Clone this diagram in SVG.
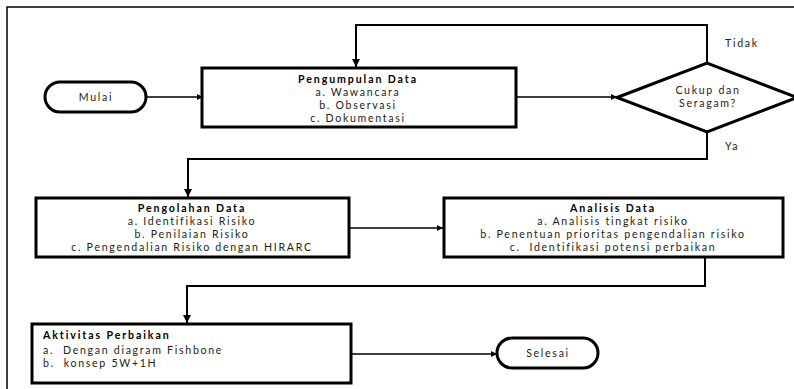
<svg xmlns="http://www.w3.org/2000/svg" width="794" height="389" viewBox="0 0 794 389">
<defs>
<marker id="ah" viewBox="0 0 10 10" refX="10" refY="5" markerWidth="6" markerHeight="6" markerUnits="userSpaceOnUse" orient="auto">
<path d="M0,0 L10,5 L0,10 z" fill="#000"/>
</marker>
<marker id="ahb" viewBox="0 0 10 10" refX="10" refY="5" markerWidth="8" markerHeight="8" markerUnits="userSpaceOnUse" orient="auto">
<path d="M0,0 L10,5 L0,10 z" fill="#000"/>
</marker>
</defs>
<style>
text{font-family:Lato,"Liberation Sans",sans-serif;font-size:10.6px;letter-spacing:1.7px;fill:#222;white-space:pre}
.b{font-weight:bold;fill:#000;letter-spacing:1.9px}
.box{fill:#fff;stroke:#000;stroke-width:3}
.term{fill:#fff;stroke:#000;stroke-width:3}
.c{fill:none;stroke:#000;stroke-width:1.5}
.c2{fill:none;stroke:#000;stroke-width:2}
.m{text-anchor:middle}
</style>
<rect width="794" height="389" fill="#fff"/>
<path d="M7,389 V7 H794" fill="none" stroke="#000" stroke-width="1.5"/>
<g id="connectors">
<path class="c" d="M146,97 H203" marker-end="url(#ah)"/>
<path class="c" d="M516,97 H617" marker-end="url(#ah)"/>
<path class="c2" d="M707,63 V25 H356 V67" marker-end="url(#ahb)"/>
<path class="c2" d="M707,132 V159 H188 V197" marker-end="url(#ahb)"/>
<path class="c" d="M349,228 H443" marker-end="url(#ah)"/>
<path class="c2" d="M705,258 V286 H187 V323" marker-end="url(#ahb)"/>
<path class="c" d="M351,354 H497" marker-end="url(#ah)"/>
</g>
<g id="mulai">
<rect class="term" x="45" y="82" width="101" height="30" rx="15"/>
<text class="m" x="96" y="101">Mulai</text>
</g>
<g id="pengumpulan">
<rect class="box" x="202" y="68" width="314" height="59"/>
<text class="m b" x="358" y="83">Pengumpulan Data</text>
<text class="m" x="358" y="96">a. Wawancara</text>
<text class="m" x="358" y="109">b. Observasi</text>
<text class="m" x="358" y="122">c. Dokumentasi</text>
</g>
<g id="keputusan">
<path d="M617,97.5 L707,63 L797,97.5 L707,132 z" fill="#fff" stroke="#000" stroke-width="3"/>
<text class="m" x="708" y="94">Cukup dan</text>
<text class="m" x="708" y="107">Seragam?</text>
<text x="725" y="47">Tidak</text>
<text x="725" y="150">Ya</text>
</g>
<g id="pengolahan">
<rect class="box" x="36" y="198" width="313" height="59"/>
<text class="m b" x="192" y="212">Pengolahan Data</text>
<text class="m" x="192" y="225">a. Identifikasi Risiko</text>
<text class="m" x="192" y="238">b. Penilaian Risiko</text>
<text class="m" x="192" y="251">c. Pengendalian Risiko dengan HIRARC</text>
</g>
<g id="analisis">
<rect class="box" x="444" y="198" width="339" height="59"/>
<text class="m b" x="613" y="212">Analisis Data</text>
<text class="m" x="613" y="225">a. Analisis tingkat risiko</text>
<text class="m" x="613" y="238">b. Penentuan prioritas pengendalian risiko</text>
<text class="m" x="613" y="251">c.  Identifikasi potensi perbaikan</text>
</g>
<g id="aktivitas">
<rect class="box" x="32" y="324" width="319" height="59"/>
<text class="b" x="43" y="339">Aktivitas Perbaikan</text>
<text x="43" y="354">a.  Dengan diagram Fishbone</text>
<text x="43" y="367">b.  konsep 5W+1H</text>
</g>
<g id="selesai">
<rect class="term" x="497" y="338" width="101" height="30" rx="15"/>
<text class="m" x="548" y="357">Selesai</text>
</g>
</svg>
